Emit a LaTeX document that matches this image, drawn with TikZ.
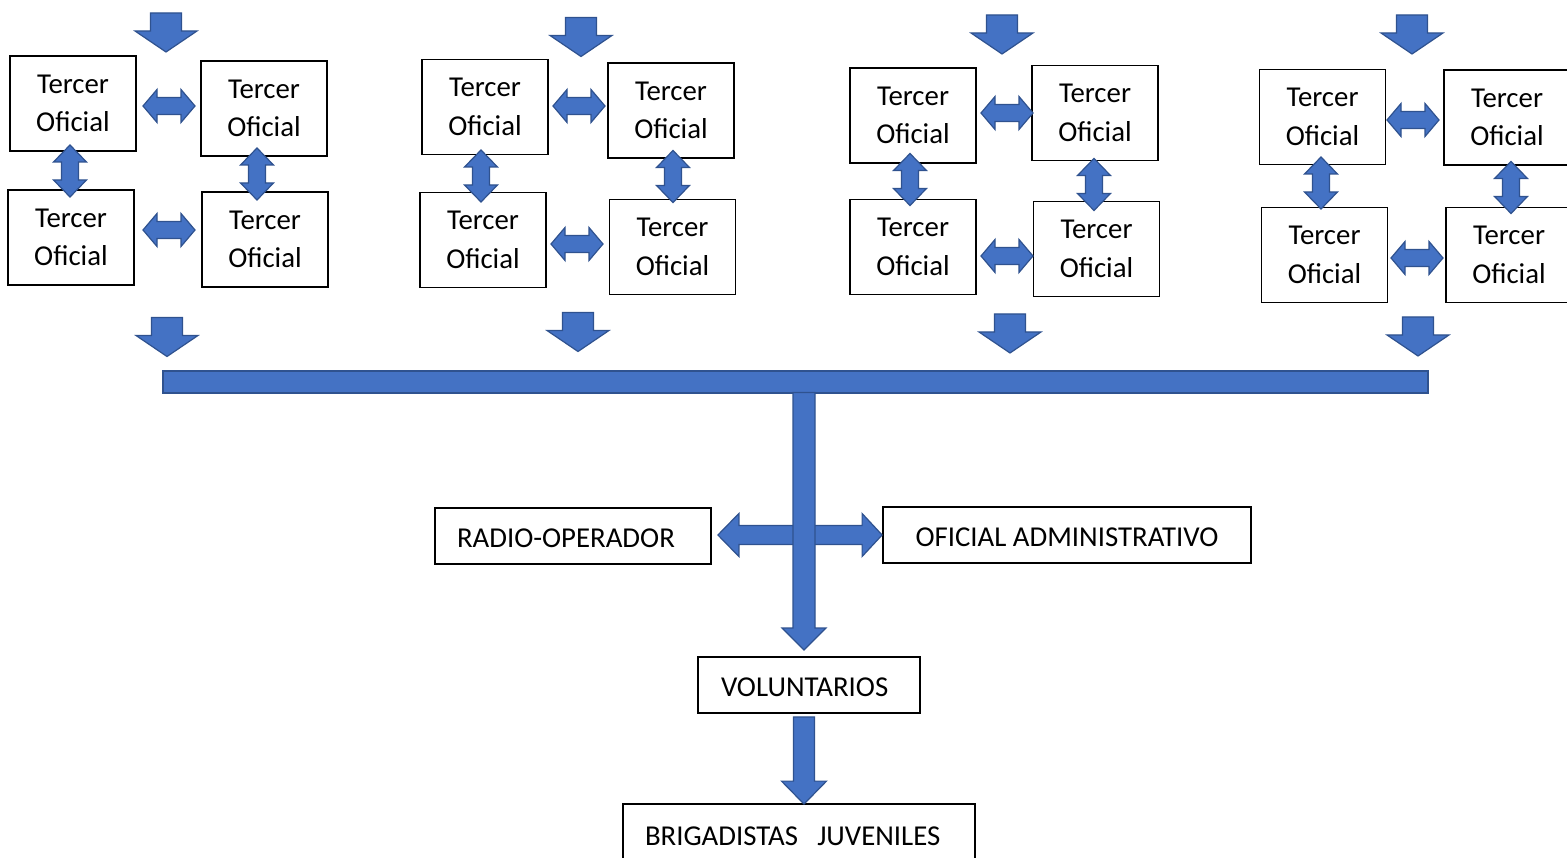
\documentclass[tikz,border=0pt]{standalone}
\usepackage{fontspec}
\setmainfont{Carlito}
\usetikzlibrary{calc}
\definecolor{ablue}{HTML}{4472C4}
\definecolor{aedge}{HTML}{2F528F}
\tikzset{
  blk/.style={fill=ablue, draw=aedge, line width=1.2pt, line join=miter},
  tbox/.style={draw=black, line width=1.8pt, fill=white, minimum width=126pt, minimum height=95pt,
    inner sep=0pt, align=center, font=\fontsize{28.8}{38.5}\selectfont},
  lbox/.style={draw=black, line width=1.8pt, fill=white, minimum height=56pt, inner ysep=0pt,
    text height=23pt, text depth=0pt, font=\fontsize{28.8}{34}\selectfont},
  downblk/.pic={\path[blk] (-15.5,-19.5) -- (15.5,-19.5) -- (15.5,-1.5) -- (31,-1.5) -- (0,19.5)
    -- (-31,-1.5) -- (-15.5,-1.5) -- cycle;},
  hdbl/.pic={\path[blk] (-26,0) -- (-12,-16.5) -- (-12,-8.5) -- (12,-8.5) -- (12,-16.5) -- (26,0)
    -- (12,16.5) -- (12,8.5) -- (-12,8.5) -- (-12,16.5) -- cycle;},
  vdbl/.pic={\path[blk] (0,-26) -- (16.5,-9) -- (8.5,-9) -- (8.5,9) -- (16.5,9) -- (0,26)
    -- (-16.5,9) -- (-8.5,9) -- (-8.5,-9) -- (-16.5,-9) -- cycle;},
}
\newcommand\TO{Tercer\\Oficial}
\begin{document}
\begin{tikzpicture}[x=1pt,y=-1pt]
\useasboundingbox (0,0) rectangle (1567,858);
\clip (0,0) rectangle (1567,858);
% ---- group 1
\node[tbox] (g1a) at (73,103.5) {\TO};
\node[tbox] (g1b) at (264,108.5) {\TO};
\node[tbox] (g1c) at (71,237.5) {\TO};
\node[tbox] (g1d) at (265,239.5) {\TO};
% ---- group 2
\node[tbox] (g2a) at (485,107) {\TO};
\node[tbox] (g2b) at (671,110.5) {\TO};
\node[tbox] (g2c) at (483,240) {\TO};
\node[tbox] (g2d) at (672.5,247) {\TO};
% ---- group 3
\node[tbox] (g3a) at (913,115.5) {\TO};
\node[tbox] (g3b) at (1095,113) {\TO};
\node[tbox] (g3c) at (913,247) {\TO};
\node[tbox] (g3d) at (1096.5,249) {\TO};
% ---- group 4
\node[tbox] (g4a) at (1322.5,117) {\TO};
\node[tbox] (g4b) at (1507,117.5) {\TO};
\node[tbox] (g4c) at (1324.5,255) {\TO};
\node[tbox] (g4d) at (1509,255) {\TO};
% ---- arrows inside groups
\pic at (166,32.5) {downblk};
\pic at (169,106) {hdbl};
\pic at (70,171) {vdbl};
\pic at (257,174) {vdbl};
\pic at (169,230) {hdbl};
\pic at (167,337) {downblk};
\pic at (581,37) {downblk};
\pic at (579,106) {hdbl};
\pic at (481,176) {vdbl};
\pic at (673,176.5) {vdbl};
\pic at (577,244) {hdbl};
\pic at (578,332) {downblk};
\pic at (1002,34.5) {downblk};
\pic at (1007,113) {hdbl};
\pic at (910,179.5) {vdbl};
\pic at (1094,184.5) {vdbl};
\pic at (1007,256) {hdbl};
\pic at (1010,333.5) {downblk};
\pic at (1412,34.5) {downblk};
\pic at (1413,120) {hdbl};
\pic at (1321,183) {vdbl};
\pic at (1511,187.5) {vdbl};
\pic at (1417,258) {hdbl};
\pic at (1418,336.5) {downblk};
% ---- bar
\node[blk, minimum width=1265pt, minimum height=22pt, inner sep=0pt] (bar) at (795.5,382) {};
% ---- lower boxes
\node[lbox, text width=232pt, inner xsep=22pt, align=left] (radio) at (573,536) {RADIO-OPERADOR};
\node[lbox, minimum width=368pt, inner xsep=0pt] (ofic) at (1067,535) {OFICIAL ADMINISTRATIVO};
\node[lbox, text width=176pt, inner xsep=23pt, align=left] (volunt) at (809,685) {VOLUNTARIOS};
\node[lbox, minimum height=60pt, text width=308pt, inner xsep=22pt, align=left] (brig) at (799,834) {BRIGADISTAS\ \ JUVENILES};
% ---- cross double arrow between radio and oficial
\path[blk] let \p1=(radio.east), \p2=(ofic.west) in
  (\x1+6pt,\y2) -- (\x1+27pt,\y2+21.5pt) -- (\x1+27pt,\y2+9.5pt) -- (\x2-20pt,\y2+9.5pt)
  -- (\x2-20pt,\y2+21.5pt) -- (\x2,\y2) -- (\x2-20pt,\y2-21.5pt) -- (\x2-20pt,\y2-9.5pt)
  -- (\x1+27pt,\y2-9.5pt) -- (\x1+27pt,\y2-21.5pt) -- cycle;
% ---- trunk from bar to voluntarios
\coordinate (trunktip) at (804,650);
\path[blk] let \p1=(bar.south), \p2=(trunktip) in
  (\x2-11pt,\y1+1pt) -- (\x2+11pt,\y1+1pt) -- (\x2+11pt,\y2+22pt) -- (\x2+22pt,\y2+22pt)
  -- (\x2,\y2) -- (\x2-22pt,\y2+22pt) -- (\x2-11pt,\y2+22pt) -- cycle;
% ---- voluntarios to brigadistas
\path[blk] let \p1=(volunt.south), \p2=(brig.north), \n1={(\x1+\x2)/2} in
  (\n1-10.5pt,\y1-3pt) -- (\n1+10.5pt,\y1-3pt) -- (\n1+10.5pt,\y2+22pt) -- (\n1+22.5pt,\y2+22pt)
  -- (\n1,\y2-1pt) -- (\n1-22.5pt,\y2+22pt) -- (\n1-10.5pt,\y2+22pt) -- cycle;
\end{tikzpicture}
\end{document}
